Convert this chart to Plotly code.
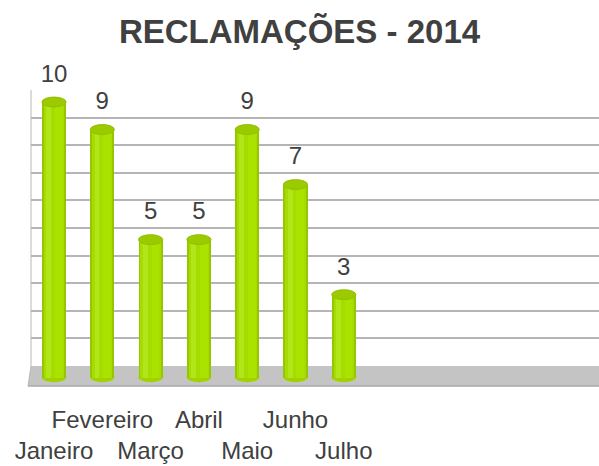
import plotly.graph_objects as go

months = ["Janeiro", "Fevereiro", "Março", "Abril", "Maio", "Junho", "Julho"]
values = [10, 9, 5, 5, 9, 7, 3]
title_text = "RECLAMAÇÕES - 2014"

W, H = 599, 466
FONT = "Liberation Sans, Arial, sans-serif"
TXT = "#404040"

xs = list(range(len(months)))
# staggered two-row labels
ticktext = [m if i % 2 == 1 else "<br>" + m for i, m in enumerate(months)]

fig = go.Figure()

# invisible trace so the back-wall grid subplot is drawn
fig.add_trace(go.Scatter(x=[0.5], y=[0], mode="markers", marker=dict(opacity=0),
                         xaxis="x", yaxis="y", hoverinfo="skip", showlegend=False))

# cylinder body: layered bars for shading
fig.add_trace(go.Bar(x=xs, y=values, width=0.5, marker=dict(color="#95c600", line=dict(width=0)),
                     xaxis="x2", yaxis="y2", hoverinfo="skip", showlegend=False))
fig.add_trace(go.Bar(x=xs, y=values, width=0.42, marker=dict(color="#a6dd00", line=dict(width=0)),
                     xaxis="x2", yaxis="y2", hoverinfo="skip", showlegend=False))
fig.add_trace(go.Bar(x=xs, y=values, width=0.1, offset=-0.16, marker=dict(color="#b2e61a", line=dict(width=0)),
                     xaxis="x2", yaxis="y2", hoverinfo="skip", showlegend=False))
fig.add_trace(go.Bar(x=xs, y=values, width=0.16, offset=0.02, marker=dict(color="#aae300", line=dict(width=0)),
                     xaxis="x2", yaxis="y2", hoverinfo="skip", showlegend=False))

# data labels
fig.add_trace(go.Scatter(x=xs, y=[v + 0.95 for v in values], mode="text", text=[str(v) for v in values],
                         textposition="middle center", textfont=dict(size=24, color=TXT, family=FONT),
                         xaxis="x2", yaxis="y2", cliponaxis=False, hoverinfo="skip", showlegend=False))

cap_h = 0.18
shapes = []
for x, v in zip(xs, values):
    shapes.append(dict(type="circle", xref="x2", yref="y2", x0=x - 0.25, x1=x + 0.25,
                       y0=-cap_h, y1=cap_h, fillcolor="#9fd300", line=dict(width=0), layer="below"))
    shapes.append(dict(type="circle", xref="x2", yref="y2", x0=x - 0.25, x1=x + 0.25,
                       y0=v - cap_h, y1=v + cap_h, fillcolor="#9cca00",
                       line=dict(width=1, color="#93bf00"), layer="above"))

# floor (3D base)
def px(xp, yp):
    return xp / W, (H - yp) / H

fx0, fy0 = px(31, 366)
fx1, fy1 = px(599, 366)
fx2, fy2 = px(599, 386)
fx3, fy3 = px(28, 386)
shapes.append(dict(type="path", xref="paper", yref="paper",
                   path=f"M {fx0},{fy0} L {fx1},{fy1} L {fx2},{fy2} L {fx3},{fy3} Z",
                   fillcolor="#c4c4c4", line=dict(width=0), layer="below"))
shapes.append(dict(type="line", xref="paper", yref="paper", x0=fx3, y0=fy3, x1=fx2, y1=fy2,
                   line=dict(color="#a8a8a8", width=1.5), layer="below"))
shapes.append(dict(type="line", xref="paper", yref="paper", x0=fx0, y0=fy0, x1=fx3, y1=fy3,
                   line=dict(color="#b8b8b8", width=1), layer="below"))
lx0, ly0 = px(31, 90)
shapes.append(dict(type="line", xref="paper", yref="paper", x0=lx0, y0=ly0, x1=fx0, y1=fy0,
                   line=dict(color="#b8b8b8", width=1), layer="below"))

fig.update_layout(
    width=W, height=H,
    margin=dict(l=0, r=0, t=0, b=0, autoexpand=False),
    paper_bgcolor="white", plot_bgcolor="rgba(0,0,0,0)",
    barmode="overlay", bargap=0,
    title=dict(text=f"<b>{title_text}</b>", x=0.5, xanchor="center", y=(H - 31) / H, yanchor="middle",
               font=dict(size=33, color=TXT, family=FONT)),
    font=dict(family=FONT, color=TXT),
    # back wall grid
    xaxis=dict(domain=[31 / W, 1], range=[0, 1], showgrid=False, zeroline=False, showticklabels=False,
               showline=False, fixedrange=True, automargin=False),
    yaxis=dict(domain=[(H - 366) / H, (H - 90) / H], range=[0, 10], dtick=1, showgrid=True,
               gridcolor="#b5b5b5", gridwidth=1.6, zeroline=False, showticklabels=False,
               showline=False, fixedrange=True, automargin=False),
    # bars
    xaxis2=dict(domain=[0, 1], range=[-54 / 48.3, (W - 54) / 48.3], anchor="y2",
                tickmode="array", tickvals=xs, ticktext=ticktext, tickangle=0,
                ticks="outside", ticklen=7, tickcolor="rgba(0,0,0,0)",
                tickfont=dict(size=24, color=TXT, family=FONT), automargin=False,
                showgrid=False, zeroline=False, showline=False, fixedrange=True),
    yaxis2=dict(domain=[(H - 391) / H, (H - 74.5) / H], range=[-0.5, 11], anchor="x2",
                showgrid=False, zeroline=False, showticklabels=False, showline=False,
                fixedrange=True, automargin=False),
    shapes=shapes,
)

fig.write_html("out.html", config={"displayModeBar": False},
               post_script="document.body.style.margin='0';document.body.style.overflow='hidden';")
